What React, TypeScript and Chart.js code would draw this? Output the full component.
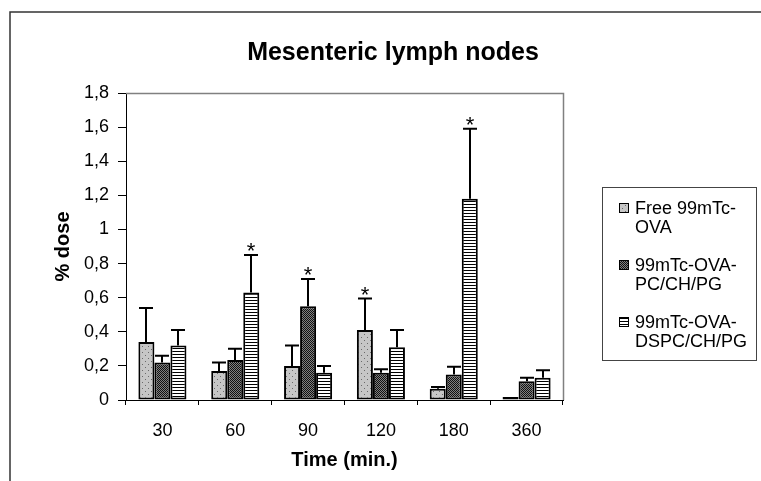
import React, { useEffect, useRef } from "react";
import { Chart, registerables } from "chart.js";

Chart.register(...registerables);

const categories = ["30", "60", "90", "120", "180", "360"];
const seriesNames = [
  ["Free 99mTc-", "OVA"],
  ["99mTc-OVA-", "PC/CH/PG"],
  ["99mTc-OVA-", "DSPC/CH/PG"],
];
const freeOva = [0.34, 0.17, 0.2, 0.41, 0.066, 0.018];
const freeOvaSd = [0.2, 0.05, 0.12, 0.185, 0.01, 0];
const pcChPg = [0.22, 0.235, 0.55, 0.16, 0.15, 0.11];
const pcChPgSd = [0.04, 0.065, 0.16, 0.02, 0.045, 0.02];
const dspcChPg = [0.32, 0.63, 0.16, 0.31, 1.18, 0.13];
const dspcChPgSd = [0.09, 0.22, 0.04, 0.1, 0.41, 0.045];
const freeOvaSig = [false, false, false, true, false, false];
const pcChPgSig = [false, false, true, false, false, false];
const dspcChPgSig = [false, true, false, false, true, false];
const yMin = 0;
const yMax = 1.8;
const yStep = 0.2;

const FONT = "'Liberation Sans', Arial, Helvetica, sans-serif";

function makePattern(kind: number): CanvasPattern | string {
  const c = document.createElement("canvas");
  const ctx = c.getContext("2d");
  if (!ctx) return "#888";
  if (kind === 0) {
    c.width = 6;
    c.height = 6;
    ctx.fillStyle = "#c6c6c6";
    ctx.fillRect(0, 0, 6, 6);
    ctx.fillStyle = "#6a6a6a";
    ctx.fillRect(1, 1, 1, 1);
    ctx.fillRect(4, 4, 1, 1);
  } else if (kind === 1) {
    c.width = 2;
    c.height = 2;
    ctx.fillStyle = "#808080";
    ctx.fillRect(0, 0, 2, 2);
    ctx.fillStyle = "#111";
    ctx.fillRect(0, 0, 1, 1);
    ctx.fillRect(1, 1, 1, 1);
  } else {
    c.width = 4;
    c.height = 3;
    ctx.fillStyle = "#ffffff";
    ctx.fillRect(0, 0, 4, 3);
    ctx.fillStyle = "#000";
    ctx.fillRect(0, 0, 4, 1);
  }
  const p = ctx.createPattern(c, "repeat");
  return p || "#888";
}

export default function App() {
  const ref = useRef<HTMLCanvasElement | null>(null);

  useEffect(() => {
    const canvas = ref.current;
    if (!canvas) return;
    const patterns = [makePattern(0), makePattern(1), makePattern(2)];
    const sds = [freeOvaSd, pcChPgSd, dspcChPgSd];
    const sigs = [freeOvaSig, pcChPgSig, dspcChPgSig];

    const decor = {
      id: "decor",
      beforeDraw(chart: any) {
        const ctx = chart.ctx;
        ctx.save();
        ctx.fillStyle = "#fff";
        ctx.fillRect(0, 0, chart.width, chart.height);
        // outer frame
        ctx.strokeStyle = "#333";
        ctx.lineWidth = 1.5;
        ctx.beginPath();
        ctx.moveTo(10, chart.height);
        ctx.lineTo(10, 12);
        ctx.lineTo(chart.width, 12);
        ctx.stroke();
        // title
        ctx.fillStyle = "#000";
        ctx.font = `bold 25px ${FONT}`;
        ctx.textAlign = "center";
        ctx.textBaseline = "middle";
        ctx.fillText("Mesenteric lymph nodes", 393, 53);
        ctx.restore();
      },
      afterDatasetsDraw(chart: any) {
        const ctx = chart.ctx;
        const ys = chart.scales.y;
        ctx.save();
        ctx.strokeStyle = "#000";
        ctx.lineWidth = 2;
        chart.data.datasets.forEach((ds: any, di: number) => {
          const meta = chart.getDatasetMeta(di);
          meta.data.forEach((el: any, i: number) => {
            const v = ds.data[i];
            const sd = sds[di][i];
            const x = Math.round(el.x);
            const yTop = ys.getPixelForValue(v + sd);
            if (sd > 0) {
              ctx.beginPath();
              ctx.moveTo(x, el.y);
              ctx.lineTo(x, yTop);
              ctx.moveTo(x - 7, yTop);
              ctx.lineTo(x + 7, yTop);
              ctx.stroke();
            }
            if (sigs[di][i]) {
              ctx.fillStyle = "#000";
              ctx.font = `22px ${FONT}`;
              ctx.textAlign = "center";
              ctx.textBaseline = "alphabetic";
              ctx.fillText("*", x, yTop + 3);
            }
          });
        });
        ctx.restore();
      },
      afterDraw(chart: any) {
        const ctx = chart.ctx;
        const a = chart.chartArea;
        ctx.save();
        // plot area border (top & right)
        ctx.strokeStyle = "#808080";
        ctx.lineWidth = 1.5;
        ctx.beginPath();
        ctx.moveTo(a.left, a.top + 0.5);
        ctx.lineTo(a.right + 0.5, a.top + 0.5);
        ctx.lineTo(a.right + 0.5, a.bottom);
        ctx.stroke();
        // legend
        ctx.strokeStyle = "#444";
        ctx.lineWidth = 1;
        ctx.strokeRect(602.5, 187.5, 154, 173);
        ctx.font = `18px ${FONT}`;
        ctx.textAlign = "left";
        ctx.textBaseline = "middle";
        seriesNames.forEach((lines, i) => {
          const y0 = 208 + i * 57;
          ctx.fillStyle = patterns[i] as any;
          ctx.fillRect(619, y0 - 5, 10, 10);
          ctx.strokeStyle = "#000";
          ctx.strokeRect(619.5, y0 - 4.5, 9, 9);
          ctx.fillStyle = "#000";
          lines.forEach((t, j) => ctx.fillText(t, 635, y0 + j * 19 + 1));
        });
        ctx.restore();
      },
    };

    const chart = new Chart(canvas, {
      type: "bar",
      data: {
        labels: categories,
        datasets: [
          { label: seriesNames[0].join(""), data: freeOva, backgroundColor: patterns[0] as any },
          { label: seriesNames[1].join(""), data: pcChPg, backgroundColor: patterns[1] as any },
          { label: seriesNames[2].join(""), data: dspcChPg, backgroundColor: patterns[2] as any },
        ].map((d) => ({
          ...d,
          borderColor: "#000",
          borderWidth: 2,
          borderSkipped: false,
          categoryPercentage: 0.66,
          barPercentage: 1,
        })),
      },
      options: {
        animation: false,
        responsive: true,
        maintainAspectRatio: false,
        layout: { padding: { left: 0, right: 198, top: 93, bottom: 0 } },
        plugins: {
          legend: { display: false },
          title: { display: false },
          tooltip: { enabled: false },
        },
        scales: {
          x: {
            afterFit: (s: any) => {
              s.height = 81;
            },
            grid: {
              display: true,
              offset: true,
              drawOnChartArea: false,
              drawTicks: true,
              tickLength: 5,
              color: "#000",
            },
            border: { display: true, color: "#000", width: 1 },
            ticks: {
              color: "#000",
              font: { family: FONT, size: 18 },
              padding: 15,
              maxRotation: 0,
            },
            title: {
              display: true,
              text: "Time (min.)",
              color: "#000",
              font: { family: FONT, size: 20, weight: "bold" },
              padding: { top: 0, bottom: 9 },
            },
          },
          y: {
            min: yMin,
            max: yMax,
            afterFit: (s: any) => {
              s.width = 126;
            },
            grid: {
              display: true,
              drawOnChartArea: false,
              drawTicks: true,
              tickLength: 8,
              color: "#000",
            },
            border: { display: true, color: "#000", width: 1 },
            ticks: {
              stepSize: yStep,
              color: "#000",
              font: { family: FONT, size: 18 },
              padding: 9,
              callback: (v: any) => String(Number(Number(v).toFixed(1))).replace(".", ","),
            },
            title: {
              display: true,
              text: "% dose",
              color: "#000",
              font: { family: FONT, size: 20, weight: "bold" },
              padding: { top: 51, bottom: 0 },
            },
          },
        },
      },
      plugins: [decor],
    });
    return () => chart.destroy();
  }, []);

  return (
    <div style={{ position: "fixed", left: 0, top: 0, width: 761, height: 481, background: "#fff" }}>
      <canvas ref={ref} width={761} height={481} />
    </div>
  );
}
